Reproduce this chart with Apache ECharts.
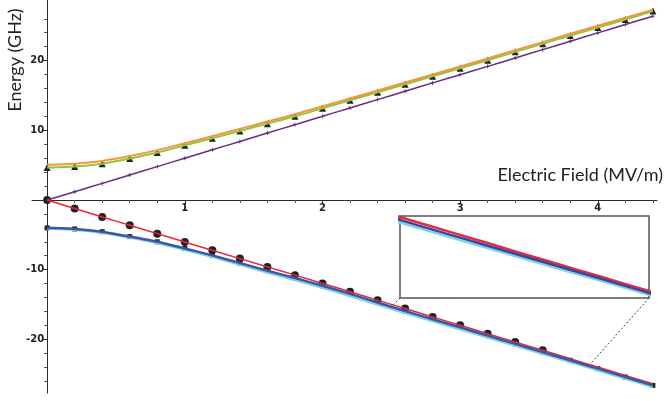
<!DOCTYPE html>
<html>
<head>
<meta charset="utf-8">
<script src="https://cdn.jsdelivr.net/npm/echarts@6/dist/echarts.min.js"></script>
<style>
  html, body { margin: 0; padding: 0; background: #fff; }
  #chart { width: 667px; height: 401px; }
</style>
</head>
<body>
<div id="chart"></div>
<script>
// field values (MV/m), one sample every 0.2
const fields = [0, 0.2, 0.4, 0.6, 0.8, 1.0, 1.2, 1.4, 1.6, 1.8, 2.0, 2.2, 2.4, 2.6, 2.8, 3.0, 3.2, 3.4, 3.6, 3.8, 4.0, 4.2, 4.4]

// energies (GHz)
const orangeLevel = [5.05, 5.2, 5.6, 6.3, 7.15, 8.15, 9.15, 10.2, 11.25, 12.3, 13.45, 14.55, 15.7, 16.85, 18.0, 19.15, 20.3, 21.5, 22.65, 23.85, 25.0, 26.15, 27.3]
const greenLevel = [4.65, 4.8, 5.2, 5.95, 6.8, 7.85, 8.85, 9.9, 10.95, 12.0, 13.15, 14.3, 15.45, 16.6, 17.75, 18.9, 20.05, 21.25, 22.4, 23.6, 24.75, 25.9, 27.1]
const purpleLevel = [0, 1.18, 2.38, 3.59, 4.79, 6.0, 7.2, 8.4, 9.6, 10.8, 12.0, 13.2, 14.4, 15.6, 16.8, 17.97, 19.17, 20.37, 21.57, 22.77, 23.97, 25.17, 26.37]
const redLevel = [0, -1.22, -2.43, -3.63, -4.83, -6.03, -7.22, -8.41, -9.6, -10.78, -11.97, -13.16, -14.37, -15.58, -16.78, -17.97, -19.18, -20.38, -21.57, -22.77, -23.96, -25.16, -26.36]
const blueLevel = [-4.0, -4.15, -4.55, -5.25, -6.0, -6.95, -7.95, -9.05, -10.15, -11.2, -12.3, -13.47, -14.7, -15.92, -17.1, -18.28, -19.46, -20.64, -21.82, -23.0, -24.2, -25.4, -26.6]
const cyanLevel = [-4.1, -4.27, -4.7, -5.4, -6.17, -7.13, -8.15, -9.27, -10.4, -11.48, -12.6, -13.77, -15.0, -16.22, -17.38, -18.55, -19.72, -20.9, -22.07, -23.24, -24.43, -25.63, -26.83]

// how many leading points carry a round marker on the red level
const circleCount = 19

// tick values
const xMajorTicks = [1, 2, 3, 4]
const xMinorTicks = [0.2, 0.4, 0.6, 0.8, 1.2, 1.4, 1.6, 1.8, 2.2, 2.4, 2.6, 2.8, 3.2, 3.4, 3.6, 3.8, 4.2, 4.4]
const yMajorTicks = [-20, -10, 10, 20]
const yMinorTicks = [-26, -24, -22, -18, -16, -14, -12, -8, -6, -4, -2, 2, 4, 6, 8, 12, 14, 16, 18, 22, 24, 26]

// zoom inset window and where it points on the curves
const insetX = [2.5, 3.95]
const insetY = [-24.49, -14.85]
const zoomFrom = [2.5, -15.3]
const zoomTo = [3.95, -23.45]

// main plot frame
const X_RANGE = [-0.11, 4.43]
const Y_RANGE = [-27.69, 28.69]
const PLOT = { left: 32, top: 0, width: 625, height: 393 }

// the axes cross at the origin, so each one lives in its own thin grid edged on zero
const zeroX = PLOT.left + PLOT.width * (0 - X_RANGE[0]) / (X_RANGE[1] - X_RANGE[0])
const zeroY = PLOT.top + PLOT.height * (Y_RANGE[1] - 0) / (Y_RANGE[1] - Y_RANGE[0])

const pairs = (ys) => fields.map((x, i) => [x, ys[i]])

const AXIS_COLOR = '#2a2a2a'
const TICK_TEXT = { fontFamily: 'DejaVu Sans', fontSize: 10, fontWeight: 'bold', color: '#222' }
const PLUS = 'path://M2,0H3V2H5V3H3V5H2V3H0V2H2Z'

const chart = echarts.init(document.getElementById('chart'))

const lineSeries = (name, ys, color, width, axis) => ({
  name,
  type: 'line',
  data: pairs(ys),
  xAxisIndex: axis,
  yAxisIndex: axis,
  symbol: 'none',
  smooth: 0.2,
  lineStyle: { color, width },
  silent: true
})

const markerSeries = (name, data, symbol, size, color) => ({
  name,
  type: 'scatter',
  data,
  symbol,
  symbolSize: size,
  itemStyle: { color, opacity: 1 },
  silent: true
})

const hiddenAxis = (gridIndex, min, max) => ({ gridIndex, type: 'value', min, max, show: false })

const option = {
  animation: false,
  grid: [
    { ...PLOT, outerBoundsMode: 'none' },
    {
      left: 400, top: 216, width: 249, height: 82, outerBoundsMode: 'none',
      show: true, backgroundColor: '#fff', borderColor: '#555', borderWidth: 1.5
    },
    { left: PLOT.left, width: PLOT.width, top: PLOT.top, height: zeroY - PLOT.top, outerBoundsMode: 'none' },
    { left: zeroX, right: 667 - PLOT.left - PLOT.width, top: PLOT.top, height: PLOT.height, outerBoundsMode: 'none' }
  ],
  xAxis: [
    hiddenAxis(0, X_RANGE[0], X_RANGE[1]),
    hiddenAxis(1, insetX[0], insetX[1]),
    {
      gridIndex: 2, type: 'value', min: X_RANGE[0], max: X_RANGE[1], position: 'bottom',
      axisLine: { onZero: false, lineStyle: { color: AXIS_COLOR, width: 1 } },
      axisTick: { customValues: xMajorTicks, length: 4, lineStyle: { color: AXIS_COLOR } },
      axisLabel: { customValues: xMajorTicks, margin: 3, ...TICK_TEXT },
      splitLine: { show: false }
    },
    {
      gridIndex: 2, type: 'value', min: X_RANGE[0], max: X_RANGE[1], position: 'bottom',
      axisLine: { show: false, onZero: false },
      axisTick: { customValues: xMinorTicks, length: 3, lineStyle: { color: '#555' } },
      axisLabel: { show: false },
      splitLine: { show: false }
    },
    hiddenAxis(3, 0, 1)
  ],
  yAxis: [
    hiddenAxis(0, Y_RANGE[0], Y_RANGE[1]),
    hiddenAxis(1, insetY[0], insetY[1]),
    hiddenAxis(2, 0, 1),
    {
      gridIndex: 3, type: 'value', min: Y_RANGE[0], max: Y_RANGE[1], position: 'left',
      axisLine: { onZero: false, lineStyle: { color: AXIS_COLOR, width: 1 } },
      axisTick: { customValues: yMajorTicks, length: 5, lineStyle: { color: AXIS_COLOR } },
      axisLabel: { customValues: yMajorTicks, margin: 3, ...TICK_TEXT },
      splitLine: { show: false }
    },
    {
      gridIndex: 3, type: 'value', min: Y_RANGE[0], max: Y_RANGE[1], position: 'left',
      axisLine: { show: false, onZero: false },
      axisTick: { customValues: yMinorTicks, length: 3, lineStyle: { color: '#555' } },
      axisLabel: { show: false },
      splitLine: { show: false }
    }
  ],
  series: [
    lineSeries('purple', purpleLevel, '#6a2b86', 1.5, 0),
    lineSeries('green', greenLevel, '#8dc63f', 2, 0),
    lineSeries('orange', orangeLevel, '#f5953b', 2, 0),
    markerSeries('upper pts', pairs(greenLevel), 'triangle', 7, '#222'),
    markerSeries('purple pts', pairs(purpleLevel), PLUS, 4, '#3a2a3a'),
    lineSeries('cyan', cyanLevel, '#7fd3df', 2.5, 0),
    lineSeries('red', redLevel, '#e8283c', 1.5, 0),
    lineSeries('blue', blueLevel, '#3b56a8', 2.5, 0),
    markerSeries('square pts', pairs(blueLevel), 'rect', 5, '#222'),
    markerSeries('circle pts', pairs(redLevel).slice(0, circleCount), 'circle', 8, '#222'),
    // inset
    lineSeries('cyan inset', cyanLevel, '#7fd3df', 2.5, 1),
    lineSeries('red inset', redLevel, '#e8283c', 2.5, 1),
    lineSeries('blue inset', blueLevel, '#3446a4', 2.5, 1)
  ],
  graphic: [
    {
      type: 'text', x: 15, y: 60, rotation: Math.PI / 2,
      style: { text: 'Energy (GHz)', fontFamily: 'Lato', fontSize: 18, fill: '#222', align: 'center', verticalAlign: 'middle' }
    },
    {
      type: 'text', x: 663, y: 175,
      style: { text: 'Electric Field (MV/m)', fontFamily: 'Lato', fontSize: 18, fill: '#222', align: 'right', verticalAlign: 'middle' }
    }
  ]
}

chart.setOption(option)

// dotted connectors from the inset's bottom corners to the curve
const cornerA = chart.convertToPixel({ xAxisIndex: 1, yAxisIndex: 1 }, [insetX[0], insetY[0]])
const cornerB = chart.convertToPixel({ xAxisIndex: 1, yAxisIndex: 1 }, [insetX[1], insetY[0]])
const pointA = chart.convertToPixel({ xAxisIndex: 0, yAxisIndex: 0 }, zoomFrom)
const pointB = chart.convertToPixel({ xAxisIndex: 0, yAxisIndex: 0 }, zoomTo)

const connector = (a, b) => ({
  type: 'line',
  shape: { x1: a[0], y1: a[1], x2: b[0], y2: b[1] },
  style: { stroke: '#444', lineWidth: 1, lineDash: [2, 2] },
  z: 10
})

chart.setOption({
  graphic: [
    option.graphic[0],
    option.graphic[1],
    connector(cornerA, pointA),
    connector(cornerB, pointB)
  ]
})
</script>
</body>
</html>
